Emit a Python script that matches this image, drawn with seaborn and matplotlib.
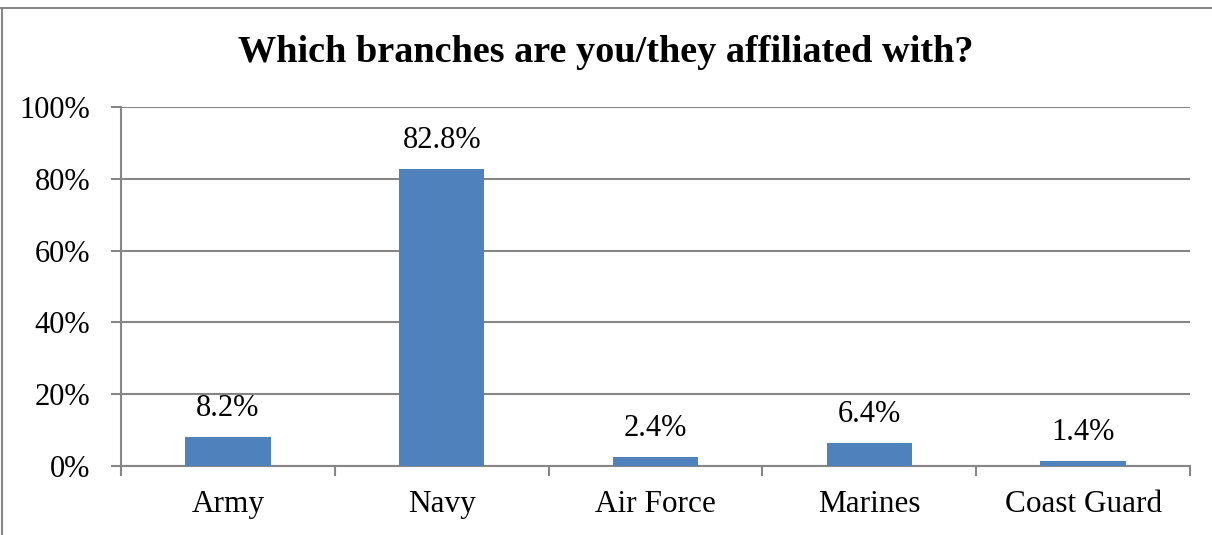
import matplotlib
matplotlib.use("Agg")
import matplotlib.pyplot as plt
from matplotlib.lines import Line2D
from matplotlib.ticker import FixedLocator, FuncFormatter
import seaborn as sns
import pandas as pd

# Survey results
branches = ["Army", "Navy", "Air Force", "Marines", "Coast Guard"]
shares = [8.2, 82.8, 2.4, 6.4, 1.4]
y_ticks = [0, 20, 40, 60, 80, 100]
title = "Which branches are you/they affiliated with?"

df = pd.DataFrame({"branch": branches, "share": shares})

sns.set_theme(style="white")
plt.rcParams["font.family"] = ["Liberation Serif", "DejaVu Serif"]
plt.rcParams["text.color"] = "black"
plt.rcParams["xtick.color"] = "black"
plt.rcParams["ytick.color"] = "black"

grid_color = "#868686"
bar_color = "#4F81BD"

fig = plt.figure(figsize=(12.12, 5.35), dpi=100)
ax = fig.add_axes([121 / 1212, 1 - 466 / 535, (1190 - 121) / 1212, (466 - 107) / 535])

sns.barplot(data=df, x="branch", y="share", color=bar_color, width=0.4,
            saturation=1, linewidth=0, edgecolor=bar_color, ax=ax, zorder=3)

ax.set_xlim(-0.5, len(branches) - 0.5)
ax.set_ylim(0, 100)
ax.yaxis.set_major_locator(FixedLocator(y_ticks))
ax.yaxis.set_major_formatter(FuncFormatter(lambda v, p: f"{v:.0f}%"))
ax.grid(axis="y", color=grid_color, linewidth=1.5, zorder=0)
ax.grid(axis="x", visible=False)

for side in ["top", "right"]:
    ax.spines[side].set_visible(False)
for side in ["left", "bottom"]:
    ax.spines[side].set_color(grid_color)
    ax.spines[side].set_linewidth(1.5)

ax.set_xlabel("")
ax.set_ylabel("")
ax.tick_params(axis="y", direction="out", length=7, width=1.5, color=grid_color,
               labelcolor="black", labelsize=22, pad=15, left=True)
ax.tick_params(axis="x", which="major", length=0, labelsize=22.5, labelcolor="black", pad=17)
ax.xaxis.set_minor_locator(FixedLocator([i - 0.5 for i in range(len(branches) + 1)]))
ax.tick_params(axis="x", which="minor", direction="out", length=7, width=1.5,
               color=grid_color, bottom=True)

for c in ax.containers:
    ax.bar_label(c, labels=[f"{v:.1f}%" for v in shares], padding=10, fontsize=22,
                 color="black")

fig.suptitle(title, x=0.5, y=1 - 52 / 535, va="center", fontsize=27.5,
             fontweight="bold", color="black")

# Frame around the chart
fig.add_artist(Line2D([0, 1], [1 - 7.5 / 535] * 2, transform=fig.transFigure,
                      color=grid_color, linewidth=1.5))
fig.add_artist(Line2D([2.5 / 1212] * 2, [0, 1 - 7.5 / 535], transform=fig.transFigure,
                      color=grid_color, linewidth=1.5))

fig.savefig("out.png", dpi=100, facecolor="white")
